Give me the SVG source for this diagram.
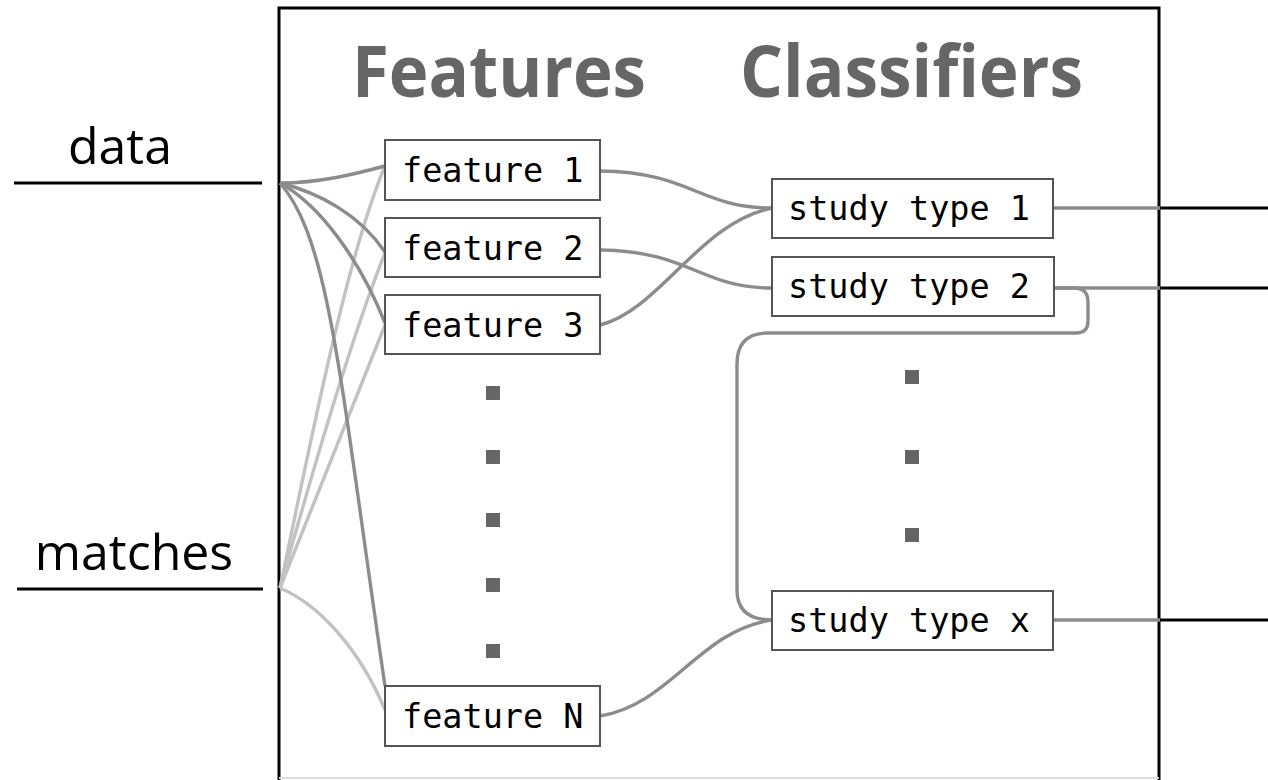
<svg xmlns="http://www.w3.org/2000/svg" width="1268" height="780" viewBox="0 0 1268 780">
<style>
.frame{fill:none;stroke:#000;stroke-width:3}
.box{fill:#fff;stroke:#555;stroke-width:2}
.mono{font-family:"DejaVu Sans Mono","Liberation Mono",monospace;font-size:33.5px;fill:#000}
.title{font-family:"Open Sans","Liberation Sans",sans-serif;font-weight:bold;font-size:71px;fill:#666}
.label{font-family:"Open Sans","Liberation Sans",sans-serif;font-size:50px;fill:#000}
.c{fill:none;stroke:#8c8c8c;stroke-width:3.4}
.l{fill:none;stroke:#c2c2c2;stroke-width:3.4}
.k{fill:none;stroke:#000;stroke-width:3}
.dot{fill:#666}
</style>
<rect width="1268" height="780" fill="#fff"/>
<g id="frame">
<path class="frame" d="M279,780 V8 H1159 V780"/>
<line x1="279" y1="778" x2="1159" y2="778" stroke="#ddd" stroke-width="2"/>
</g>
<g id="titles">
<text class="title" x="352" y="97" textLength="294" lengthAdjust="spacingAndGlyphs">Features</text>
<text class="title" x="740" y="97" textLength="343" lengthAdjust="spacingAndGlyphs">Classifiers</text>
</g>
<g id="inputs">
<text class="label" x="120" y="164" text-anchor="middle">data</text>
<line class="k" x1="14" y1="183" x2="262" y2="183"/>
<text class="label" x="134" y="570" text-anchor="middle">matches</text>
<line class="k" x1="17" y1="589" x2="263" y2="589"/>
</g>
<g id="connectors">
<path class="l" d="M280,588 C305,470 345,260 385,166"/>
<path class="l" d="M280,588 C310,480 350,340 385,253"/>
<path class="l" d="M280,588 C315,500 355,400 385,325"/>
<path class="l" d="M280,588 C320,605 360,650 385,710"/>
<path class="c" d="M280,183 C320,183 355,174 385,166"/>
<path class="c" d="M280,183 C320,193 360,215 385,252"/>
<path class="c" d="M280,183 C320,205 360,260 385,323"/>
<path class="c" d="M280,183 C330,240 340,380 385,686"/>
<path class="c" d="M600,171 C690,172 700,208 772,208"/>
<path class="c" d="M600,250 C690,251 700,288 772,288"/>
<path class="c" d="M600,325 C660,310 700,222 772,208"/>
<path class="c" d="M600,716 C670,705 700,630 772,620"/>
<path class="c" d="M1054,208 H1160"/>
<path class="c" d="M1054,288 H1160"/>
<path class="c" d="M1054,620 H1160"/>
<path class="c" d="M1054,288 H1074 Q1088,288 1088,302 V321 Q1088,333 1076,333 H768 Q737,333 737,364 V590 Q737,620 772,620"/>
<path class="k" d="M1160,208 H1268 M1160,288 H1268 M1160,620 H1268"/>
</g>
<g id="feature1"><rect class="box" x="385" y="140" width="215" height="60"/><text class="mono" x="402" y="182">feature 1</text></g>
<g id="feature2"><rect class="box" x="385" y="218" width="215" height="59"/><text class="mono" x="402" y="260">feature 2</text></g>
<g id="feature3"><rect class="box" x="385" y="295" width="215" height="59"/><text class="mono" x="402" y="337">feature 3</text></g>
<g id="featureN"><rect class="box" x="385" y="686" width="215" height="60"/><text class="mono" x="402" y="728">feature N</text></g>
<g id="study1"><rect class="box" x="772" y="179" width="281" height="59"/><text class="mono" x="788" y="220">study type 1</text></g>
<g id="study2"><rect class="box" x="772" y="257" width="282" height="59"/><text class="mono" x="788" y="298">study type 2</text></g>
<g id="studyx"><rect class="box" x="772" y="591" width="281" height="59"/><text class="mono" x="788" y="632">study type x</text></g>
<g id="dots">
<rect class="dot" x="486" y="386" width="14" height="14"/>
<rect class="dot" x="486" y="450" width="14" height="14"/>
<rect class="dot" x="486" y="513" width="14" height="14"/>
<rect class="dot" x="486" y="578" width="14" height="14"/>
<rect class="dot" x="486" y="644" width="14" height="14"/>
<rect class="dot" x="905" y="370" width="14" height="14"/>
<rect class="dot" x="905" y="450" width="14" height="14"/>
<rect class="dot" x="905" y="528" width="14" height="14"/>
</g>
</svg>
